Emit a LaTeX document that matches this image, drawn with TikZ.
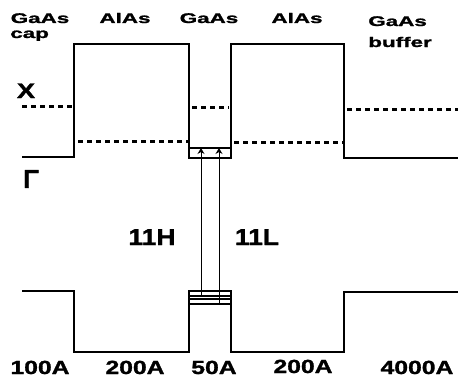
\documentclass[tikz,border=0pt]{standalone}
\usepackage{fontspec}
\newfontfamily\bandfont[FakeBold=1.2]{Liberation Sans}
\usetikzlibrary{calc,positioning,arrows.meta}

\tikzset{
  band/.style={line width=1.3pt},
  xband/.style={line width=3pt, dash pattern=on 5pt off 4pt},
  trans/.style={line width=0.9pt, -{Stealth[length=6pt,width=7pt]}},
  toplbl/.style={font=\bandfont\bfseries\fontsize{14}{14}\selectfont, xscale=1.6, inner sep=0pt},
  botlbl/.style={font=\bandfont\bfseries\fontsize{19}{19}\selectfont, xscale=1.3, inner sep=0pt},
  midlbl/.style={font=\bandfont\bfseries\fontsize{23}{23}\selectfont, xscale=1.15, inner sep=0pt}
}

\begin{document}
\begin{tikzpicture}[x=1pt,y=-1pt]
\useasboundingbox (0,0) rectangle (458,388);
%\draw[help lines, step=20] (0,0) grid (458,388);

% conduction band
\draw[band] (22,157) -- (74,157) -- (74,44) -- (189,44) -- (189,158) -- (231,158)
  -- (231,44) -- (344,44) -- (344,158) -- (458,158);
\draw[band] (189,148) -- (231,148);

% X band
\draw[xband] (22,106) -- (72,106);
\draw[xband] (78,141) -- (188,141);
\draw[xband] (192,107) -- (229,107);
\draw[xband] (234,142) -- (343,142);
\draw[xband] (347,109) -- (458,109);

% valence band
\draw[band] (22,291) -- (74,291) -- (74,352) -- (189,352) -- (189,291) -- (231,291)
  -- (231,352) -- (344,352) -- (344,292) -- (458,292);
\foreach \y in {296,299,304} \draw[band] (189,\y) -- (231,\y);

% transitions
\coordinate (e1l) at (201,148);
\coordinate (e1r) at (219,148);
\coordinate (hh1) at (201,296);
\coordinate (lh1) at (219,304);
\draw[trans] (hh1) -- (e1l);
\draw[trans] (lh1) -- (e1r);

% layer names
\node[toplbl, anchor=base] (capname) at (40,23) {GaAs};
\node[toplbl, anchor=base west] (cap) at (10,38) {cap};
\node[toplbl, anchor=base] (bar1) at (125,23) {AlAs};
\node[toplbl, anchor=base] (well) at (209,23) {GaAs};
\node[toplbl, anchor=base] (bar2) at (297,23) {AlAs};
\node[toplbl, anchor=base west] (bufname) at (368,26) {GaAs};
\node[toplbl, anchor=base west] (buf) at (368,47) {buffer};

\node[font=\bandfont\bfseries\fontsize{21}{21}\selectfont, xscale=1.3, inner sep=0pt, anchor=base] (xlbl) at (26,98) {X};
\node[font=\bandfont\bfseries\fontsize{26}{26}\selectfont, inner sep=0pt, anchor=base] (glbl) at (31,188) {Γ};

\node[midlbl, anchor=base] (h11) at (152,245) {11H};
\node[midlbl, anchor=base] (l11) at (257,245) {11L};

% thicknesses
\node[botlbl, anchor=base] (t1) at (40,374) {100A};
\node[botlbl, anchor=base] (t2) at (135,374) {200A};
\node[botlbl, anchor=base] (t3) at (214,374) {50A};
\node[botlbl, anchor=base] (t4) at (303,373) {200A};
\node[botlbl, anchor=base] (t5) at (417,374) {4000A};

\end{tikzpicture}
\end{document}
